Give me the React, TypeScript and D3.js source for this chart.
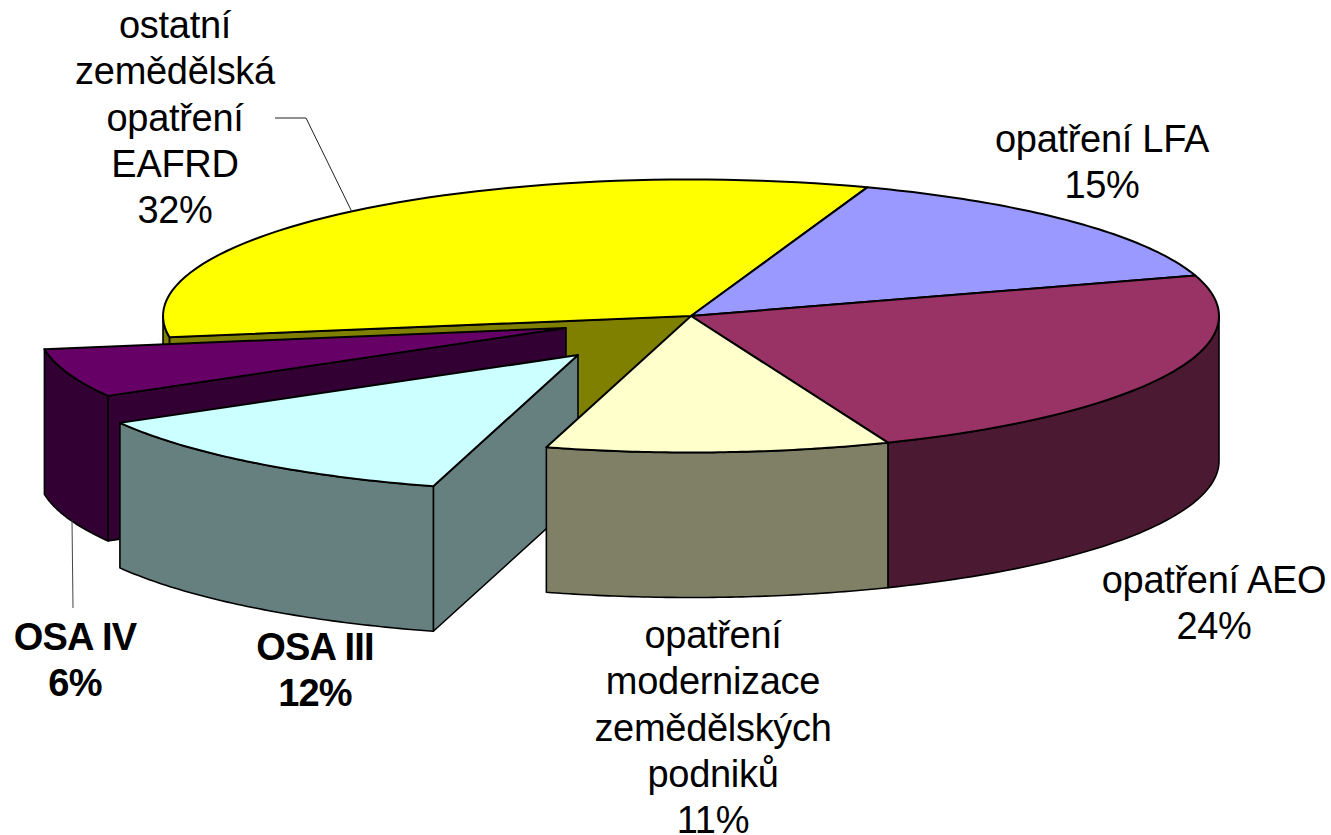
import React from "react";
import * as d3 from "d3";

// clockwise from the yellow / blue boundary, shares
const categories = ["opatření LFA", "opatření AEO", "opatření modernizace zemědělských podniků", "OSA III", "OSA IV", "ostatní zemědělská opatření EAFRD"];
const sliceShares = [14.8, 23.7, 10.5, 12.3, 5.8, 32.9];
const percentLabels = ["15%", "24%", "11%", "12%", "6%", "32%"];
const topColors = ["#9999FF", "#993366", "#FFFFCC", "#CCFFFF", "#660066", "#FFFF00"];
const wallColors = ["#4C4C80", "#4C1933", "#808066", "#668080", "#330033", "#808000"];

const width = 1331;
const height = 835;
const cx = 691;
const cy = 316;
const rx = 528;
const ry = 136.5;
const depth = 145;
const startDeg = 19.5;

// how far the two cut-out slices were pulled from the centre
const explode: Record<number, [number, number]> = { 3: [-113, 39], 4: [-125, 12] };
const paintOrder = [5, 4, 3, 0, 1, 2];

const labelLayout = [
  { x: 1102, y: 152, lines: ["opatření LFA"], bold: false },
  { x: 1214, y: 593, lines: ["opatření AEO"], bold: false },
  { x: 713, y: 648, lines: ["opatření", "modernizace", "zemědělských", "podniků"], bold: false },
  { x: 315, y: 660, lines: ["OSA III"], bold: true },
  { x: 75, y: 650, lines: ["OSA IV"], bold: true },
  { x: 175, y: 38, lines: ["ostatní", "zemědělská", "opatření", "EAFRD"], bold: false },
];

const xScale = d3.scaleLinear().domain([-1, 1]).range([cx - rx, cx + rx]);
const yScale = d3.scaleLinear().domain([-1, 1]).range([cy + ry, cy - ry]);
const line = d3.line();

const arcs = d3
  .pie<number>()
  .sort(null)
  .startAngle((startDeg * Math.PI) / 180)
  .endAngle((startDeg * Math.PI) / 180 + 2 * Math.PI)(sliceShares);

const rim = (a: number, dx: number, dy: number): [number, number] => [
  xScale(Math.sin(a)) + dx,
  yScale(Math.cos(a)) + dy,
];

const sweep = (a0: number, a1: number, dx: number, dy: number) =>
  d3.range(0, 61).map((i) => rim(a0 + ((a1 - a0) * i) / 60, dx, dy));

const App = () => {
  return (
    <svg
      width={width}
      height={height}
      viewBox={`0 0 ${width} ${height}`}
      style={{ position: "absolute", left: 0, top: 0, background: "#fff" }}
      fontFamily="'Liberation Sans', Arial, sans-serif"
    >
      {paintOrder.map((i) => {
        const { startAngle, endAngle } = arcs[i];
        const [dx, dy] = explode[i] ?? [0, 0];
        const apex: [number, number] = [cx + dx, cy + dy];

        // the part of the outer wall facing the viewer is between 90 and 270 deg
        const lo = Math.max(startAngle, Math.PI / 2);
        const hi = Math.min(endAngle, (3 * Math.PI) / 2);
        const hasWall = hi > lo;
        const topEdge = hasWall ? sweep(lo, hi, dx, dy) : [];
        const wall = [...topEdge, ...topEdge.slice().reverse().map(([x, y]) => [x, y + depth] as [number, number])];

        // radial cut face, only the left hand cuts can be seen
        const corner = rim(startAngle, dx, dy);
        const cutFace: [number, number][] = [
          apex,
          corner,
          [corner[0], corner[1] + depth],
          [apex[0], apex[1] + depth],
        ];
        const showCut = Math.sin(startAngle) < 0;

        const top = [apex, ...sweep(startAngle, endAngle, dx, dy)];
        return (
          <g key={categories[i]} stroke="#000" strokeLinejoin="round">
            {showCut && <path d={line(cutFace) + "Z"} fill={wallColors[i]} strokeWidth={1.6} />}
            {hasWall && <path d={line(wall) + "Z"} fill={wallColors[i]} strokeWidth={1.6} />}
            <path d={line(top) + "Z"} fill={topColors[i]} strokeWidth={2} />
          </g>
        );
      })}

      <polyline points="275,118 306,118 352,212" fill="none" stroke="#222" strokeWidth={1} />
      <polyline points="72,520 73,608" fill="none" stroke="#444" strokeWidth={1} />

      {labelLayout.map((l, i) => {
        const rows = [...l.lines, percentLabels[i]];
        return (
          <text
            key={categories[i]}
            x={l.x}
            y={l.y}
            textAnchor="middle"
            fontSize={38}
            fontWeight={l.bold ? 700 : 400}
            letterSpacing={l.bold ? -0.8 : -0.3}
            fill="#000"
          >
            {rows.map((r, j) => (
              <tspan key={r} x={l.x} dy={j === 0 ? 0 : 46.3}>
                {r}
              </tspan>
            ))}
          </text>
        );
      })}
    </svg>
  );
};

export default App;
